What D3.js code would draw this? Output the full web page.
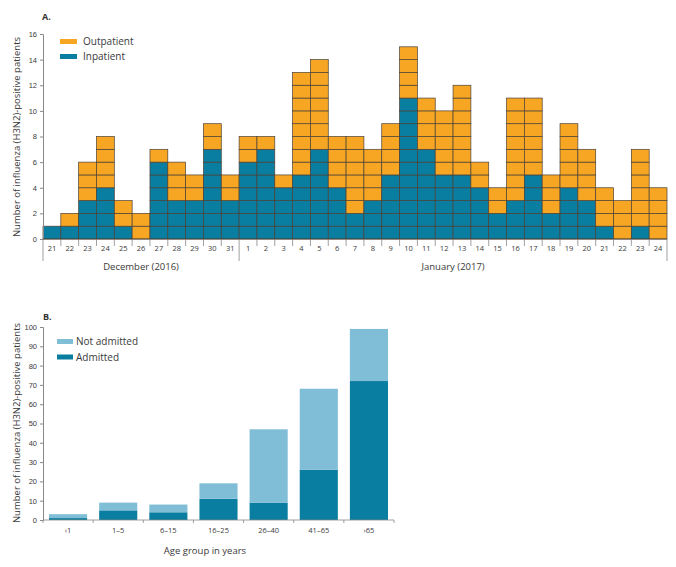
<!DOCTYPE html>
<html><head><meta charset="utf-8">
<script src="https://cdn.jsdelivr.net/npm/d3@7/dist/d3.min.js"></script>
<style>body{margin:0;background:#fff}svg{display:block;font-family:"Open Sans","Noto Sans",sans-serif}</style>
</head><body><svg id="c" width="676" height="567"></svg>
<script>
// Panel A data
const days = ["21","22","23","24","25","26","27","28","29","30","31","1","2","3","4","5","6","7","8","9","10","11","12","13","14","15","16","17","18","19","20","21","22","23","24"];
const inpatient  = [1,1,3,4,1,0,6,3,3,7,3,6,7,4,5,7,4,2,3,5,11,7,5,5,4,2,3,5,2,4,3,1,0,1,0];
const outpatient = [0,1,3,4,2,2,1,3,2,2,2,2,1,1,8,7,4,6,4,4,4,4,5,7,2,2,8,6,3,5,4,3,3,6,4];
const monthLabels = ["December (2016)","January (2017)"];
const monthSplit = 11; // number of December days
const yTicksA = [0,2,4,6,8,10,12,14,16];
// Panel B data
const ageGroups = ["‹1","1–5","6–15","16–25","26–40","41–65","›65"];
const admitted = [1,5,4,11,9,26,72];
const notAdmitted = [2,4,4,8,38,42,27];
const yTicksB = [0,10,20,30,40,50,60,70,80,90,100];

const ORANGE="#F6A623", TEAL="#0A7EA0", LIGHT="#80BDD6", EDGE="#4b4036", AX="#888", TXT="#3a3a3a";
const svg=d3.select("#c");

// ---------- Panel A ----------
const xA=d3.scaleBand().domain(d3.range(days.length)).range([43,667]).padding(0);
const yA=d3.scaleLinear().domain([0,16]).range([239,34]);
const gA=svg.append("g");
gA.append("text").attr("x",42).attr("y",20).text("A.").attr("font-size",9).attr("font-weight","bold").attr("fill","#333");
days.forEach((d,i)=>{
  const boxes=[];
  for(let k=0;k<inpatient[i];k++) boxes.push({k,c:TEAL});
  for(let k=0;k<outpatient[i];k++) boxes.push({k:inpatient[i]+k,c:ORANGE});
  gA.selectAll(null).data(boxes).enter().append("rect")
    .attr("x",xA(i)).attr("width",xA.bandwidth())
    .attr("y",b=>yA(b.k+1)).attr("height",b=>yA(b.k)-yA(b.k+1))
    .attr("fill",b=>b.c).attr("stroke",EDGE).attr("stroke-width",0.7);
});
const axA=gA.append("g").attr("transform","translate(43,0)")
  .call(d3.axisLeft(yA).tickValues(yTicksA).tickSize(3).tickPadding(3));
axA.select(".domain").attr("stroke",AX);
axA.selectAll(".tick line").attr("stroke",AX);
axA.selectAll("text").attr("font-size",7.5).attr("fill",TXT);
const axX=gA.append("g").attr("transform","translate(0,239)");
axX.append("line").attr("x1",43).attr("x2",667).attr("stroke",EDGE).attr("stroke-width",0.8);
axX.selectAll(".dt").data(d3.range(1,days.length)).enter().append("line")
  .attr("x1",i=>xA(i)).attr("x2",i=>xA(i)).attr("y1",0).attr("y2",i=>i===monthSplit?22:7)
  .attr("stroke",AX).attr("stroke-width",0.8);
axX.selectAll(".end").data([43,667]).enter().append("line")
  .attr("x1",d=>d).attr("x2",d=>d).attr("y1",0).attr("y2",22).attr("stroke",AX).attr("stroke-width",0.8);
axX.selectAll(".dl").data(days).enter().append("text")
  .attr("x",(d,i)=>xA(i)+xA.bandwidth()/2).attr("y",12).attr("text-anchor","middle")
  .attr("font-size",7.5).attr("fill",TXT).text(d=>d);
const mid1=(xA(0)+xA(monthSplit))/2, mid2=(xA(monthSplit)+667)/2;
axX.selectAll(".ml").data(monthLabels).enter().append("text")
  .attr("x",(d,i)=>i?mid2:mid1).attr("y",31).attr("text-anchor","middle")
  .attr("font-size",9.5).attr("fill",TXT).text(d=>d);
gA.append("text").attr("transform","translate(20,137) rotate(-90)").attr("text-anchor","middle")
  .attr("font-size",9.5).attr("fill",TXT).text("Number of influenza (H3N2)-positive patients");
const legA=[["Outpatient",ORANGE],["Inpatient",TEAL]];
legA.forEach((l,i)=>{
  gA.append("rect").attr("x",60).attr("y",39+i*15).attr("width",17).attr("height",5).attr("fill",l[1]);
  gA.append("text").attr("x",83).attr("y",45+i*15).attr("font-size",10).attr("fill",TXT).text(l[0]);
});

// ---------- Panel B ----------
const xB=d3.scaleBand().domain(ageGroups).range([43,394]).paddingInner(0.24).paddingOuter(0.12);
const yB=d3.scaleLinear().domain([0,100]).range([520,327]);
const gB=svg.append("g");
gB.append("text").attr("x",43).attr("y",320).text("B.").attr("font-size",9).attr("font-weight","bold").attr("fill","#333");
const stackData=ageGroups.map((a,i)=>({a,adm:admitted[i],not:notAdmitted[i]}));
const series=d3.stack().keys(["adm","not"])(stackData);
const colB={adm:TEAL,not:LIGHT};
gB.selectAll(".s").data(series).enter().append("g").attr("fill",s=>colB[s.key])
  .selectAll("rect").data(s=>s).enter().append("rect")
  .attr("x",d=>xB(d.data.a)).attr("width",xB.bandwidth())
  .attr("y",d=>yB(d[1])).attr("height",d=>yB(d[0])-yB(d[1]));
const ayB=gB.append("g").attr("transform","translate(43,0)")
  .call(d3.axisLeft(yB).tickValues(yTicksB).tickSize(3).tickPadding(3));
ayB.select(".domain").attr("stroke",AX);
ayB.selectAll(".tick line").attr("stroke",AX);
ayB.selectAll("text").attr("font-size",7.5).attr("fill",TXT);
const axB=gB.append("g").attr("transform","translate(0,520)");
axB.append("line").attr("x1",43).attr("x2",394).attr("stroke",AX).attr("stroke-width",0.8);
const bounds=d3.range(ageGroups.length+1).map(i=>43+i*(351/ageGroups.length));
axB.selectAll(".bt").data(bounds).enter().append("line")
  .attr("x1",d=>d).attr("x2",d=>d).attr("y1",0).attr("y2",3).attr("stroke",AX).attr("stroke-width",0.8);
axB.selectAll(".bl").data(ageGroups).enter().append("text")
  .attr("x",d=>xB(d)+xB.bandwidth()/2).attr("y",13).attr("text-anchor","middle")
  .attr("font-size",7.5).attr("fill",TXT).text(d=>d);
gB.append("text").attr("x",205).attr("y",554).attr("text-anchor","middle")
  .attr("font-size",9.5).attr("fill",TXT).text("Age  group in years");
gB.append("text").attr("transform","translate(20,423) rotate(-90)").attr("text-anchor","middle")
  .attr("font-size",9.5).attr("fill",TXT).text("Number of influenza (H3N2)-positive patients");
const legB=[["Not admitted",LIGHT],["Admitted",TEAL]];
legB.forEach((l,i)=>{
  gB.append("rect").attr("x",57).attr("y",339+i*15.5).attr("width",16).attr("height",5).attr("fill",l[1]);
  gB.append("text").attr("x",76).attr("y",345+i*15.5).attr("font-size",10).attr("fill",TXT).text(l[0]);
});
</script></body></html>
